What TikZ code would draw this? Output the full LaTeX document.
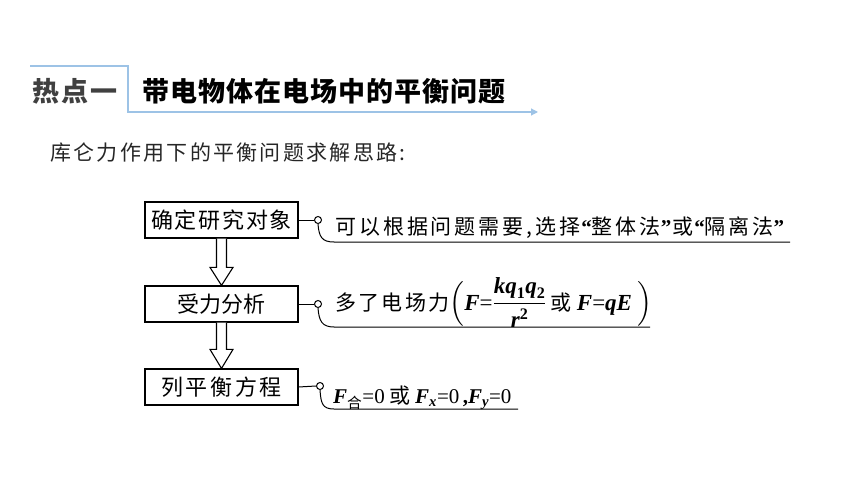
\documentclass[tikz,border=0pt]{standalone}
\usepackage{amsmath}
\usepackage{fontspec}
\newfontfamily\cjk{Noto Sans CJK SC}
\newfontfamily\tms{Liberation Serif}
\usetikzlibrary{arrows.meta,calc}
\newcommand\vb[1]{\text{\tms\bfseries\itshape #1}}
\newcommand\rmn[1]{\text{\tms #1}}
\newcommand\myLq{\kern1pt{\tms\bfseries “}}
\newcommand\myRq{{\tms\bfseries ”}\kern1pt}
\definecolor{tabline}{HTML}{9DC3E6}
\definecolor{hdgray}{HTML}{404040}
\definecolor{subgray}{HTML}{262626}
\begin{document}
\begin{tikzpicture}[x=1pt,y=-1pt,
  boxst/.style={draw,line width=1.2pt,minimum width=153pt,minimum height=36pt,inner sep=0pt,font=\cjk\fontsize{22}{26}\selectfont},
  pinst/.style={circle,draw,line width=1pt,minimum size=7pt,inner sep=0pt,fill=white},
  lnk/.style={line width=1pt},
  rowtxt/.style={anchor=base west,inner sep=0pt,font=\cjk\fontsize{21}{25}\selectfont},
  darr/.style={draw,line width=1.1pt,fill=white,line join=miter}]
\useasboundingbox (0,0) rectangle (860,484);
% header
\coordinate (tl) at (30,66);
\coordinate (tc) at (128,66);
\coordinate (tb) at (128,112);
\coordinate (te) at (538,112);
\draw[tabline,line width=1.2pt,-{Triangle[length=7pt,width=7pt]}] (tl) -- (tc) -- (tb) -- (te);
\node[font=\cjk\bfseries\fontsize{27}{30}\selectfont,text=hdgray] (hd) at (75,91) {\addfontfeature{LetterSpace=8}热点一};
\node[font=\cjk\bfseries\fontsize{27}{30}\selectfont,text=black] (ttl) at (324,91) {\addfontfeature{LetterSpace=4}带电物体在电场中的平衡问题};
\node[anchor=west,inner sep=0pt,font=\cjk\fontsize{21}{25}\selectfont,text=subgray] (sub) at (50,153) {\addfontfeature{LetterSpace=11}库仑力作用下的平衡问题求解思路:};
% boxes
\node[boxst] (b1) at (221.5,220) {\addfontfeature{LetterSpace=8}确定研究对象};
\node[boxst] (b2) at (221.5,304) {受力分析};
\node[boxst] (b3) at (221.5,387) {\addfontfeature{LetterSpace=12}列平衡方程};
% double arrows
\draw[darr] ($(b1.south)+(-5,0)$) -- ($(b2.north)+(-5,-18)$) -- ($(b2.north)+(-11.5,-18)$) -- (b2.north) -- ($(b2.north)+(11.5,-18)$) -- ($(b2.north)+(5,-18)$) -- ($(b1.south)+(5,0)$);
\draw[darr] ($(b2.south)+(-5,0)$) -- ($(b3.north)+(-5,-19)$) -- ($(b3.north)+(-11.5,-19)$) -- (b3.north) -- ($(b3.north)+(11.5,-19)$) -- ($(b3.north)+(5,-19)$) -- ($(b2.south)+(5,0)$);
% pins and underlines
\node[pinst] (p1) at (318,220) {};
\node[pinst] (p2) at (318,304) {};
\node[pinst] (p3) at (320,386) {};
\coordinate (u1a) at (334,242); \coordinate (u1b) at (790,242);
\coordinate (u2a) at (334,327); \coordinate (u2b) at (650,327);
\coordinate (u3a) at (334,409); \coordinate (u3b) at (518,409);
\draw[lnk] (b1.east) -- (p1.west);
\draw[lnk] (b2.east) -- (p2.west);
\draw[lnk] (b3.east) -- (p3.west);
\draw[lnk] (p1.south) .. controls ($(p1.south)+(1,13)$) and ($(u1a)+(-12,0)$) .. (u1a) -- (u1b);
\draw[lnk] (p2.south) .. controls ($(p2.south)+(1,13)$) and ($(u2a)+(-12,0)$) .. (u2a) -- (u2b);
\draw[lnk] (p3.south) .. controls ($(p3.south)+(1,13)$) and ($(u3a)+(-12,0)$) .. (u3a) -- (u3b);
% row texts
\node[rowtxt] (t1) at (335,234) {\addfontfeature{LetterSpace=14}可以根据问题需要,选择\myLq 整体法\myRq 或\myLq 隔离法\myRq};
\node[rowtxt] (t2) at (335,310) {{\addfontfeature{LetterSpace=11}多了电场力}{\fontsize{23}{27}\selectfont$\Bigl(\vb{F}\rmn{=}\dfrac{\vb{kq}_{\text{\tms\bfseries 1}}\vb{q}_{\text{\tms\bfseries 2}}}{\vb{r}^{\text{\tms\bfseries 2}}}\,\text{\cjk\fontsize{21}{25}\selectfont 或}\ \vb{F}\rmn{=}\vb{qE}\ \Bigr)$}};
\node[rowtxt] (t3) at (333,403) {$\vb{F}_{\text{\cjk 合}}\rmn{=0}\ \text{\cjk 或}\ \vb{F}_{\vb{x}}\rmn{=0}\,\text{\tms\bfseries ,}\vb{F}_{\vb{y}}\rmn{=0}$};
\end{tikzpicture}
\end{document}
